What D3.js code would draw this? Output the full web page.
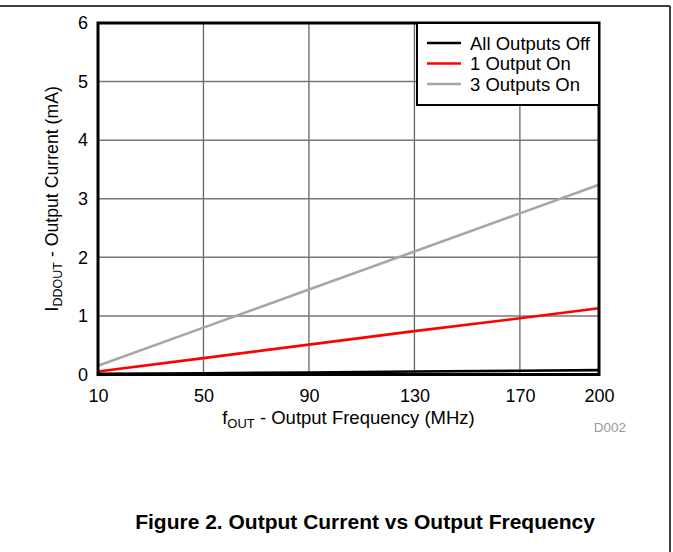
<!DOCTYPE html>
<html><head><meta charset="utf-8">
<script src="https://cdn.jsdelivr.net/npm/d3@7"></script>
<style>body{margin:0;background:#fff}svg{display:block}text{font-family:"Liberation Sans",Arial,sans-serif}</style>
</head><body><svg id="c" width="673" height="552"></svg>
<script>
const freq = [10, 50, 90, 130, 170, 200];
const allOff = [0.01, 0.02, 0.035, 0.05, 0.063, 0.075];
const oneOn = [0.05, 0.28, 0.51, 0.74, 0.96, 1.13];
const threeOn = [0.15, 0.80, 1.45, 2.10, 2.75, 3.24];
const xTicks = [10, 50, 90, 130, 170, 200];
const yTicks = [0, 1, 2, 3, 4, 5, 6];
const seriesNames = ["All Outputs Off", "1 Output On", "3 Outputs On"];
const seriesColors = ["#000000", "#ff0000", "#a6a6a6"];
const seriesValues = [allOff, oneOn, threeOn];

const svg = d3.select("#c");
const L = 98, R = 599, T = 23, B = 374.5;
const x = d3.scaleLinear().domain([10, 200]).range([L, R]);
const y = d3.scaleLinear().domain([0, 6]).range([B, T]);

// outer frame
svg.append("line").attr("x1", 0).attr("x2", 670).attr("y1", 6).attr("y2", 6).attr("stroke", "#000").attr("stroke-width", 1.5);
svg.append("line").attr("x1", 670).attr("x2", 670).attr("y1", 6).attr("y2", 552).attr("stroke", "#000").attr("stroke-width", 1.5);

// grid
const g = svg.append("g");
g.selectAll("line.v").data(xTicks.slice(1, -1)).join("line")
  .attr("x1", d => x(d)).attr("x2", d => x(d)).attr("y1", T).attr("y2", B)
  .attr("stroke", "#666").attr("stroke-width", 1.3);
g.selectAll("line.h").data(yTicks.slice(1, -1)).join("line")
  .attr("y1", d => y(d)).attr("y2", d => y(d)).attr("x1", L).attr("x2", R)
  .attr("stroke", "#777").attr("stroke-width", 1.5);

// series
const line = d3.line().x((d, i) => x(freq[i])).y(d => y(d));
seriesValues.slice().reverse().forEach((vals, k) => {
  const i = seriesValues.length - 1 - k;
  svg.append("path").attr("d", line(vals)).attr("fill", "none")
    .attr("stroke", seriesColors[i]).attr("stroke-width", 2.6);
});

// plot frame
svg.append("rect").attr("x", L).attr("y", T).attr("width", R - L).attr("height", B - T)
  .attr("fill", "none").attr("stroke", "#000").attr("stroke-width", 3);

// axes labels
const xAxis = d3.axisBottom(x).tickValues(xTicks).tickSize(0).tickPadding(15).tickFormat(d3.format("d"));
const xa = svg.append("g").attr("transform", `translate(0,${B})`).call(xAxis);
xa.select(".domain").remove();
xa.selectAll("text").attr("font-size", 18).attr("fill", "#000").attr("font-family", "Liberation Sans, Arial, sans-serif");

const yAxis = d3.axisLeft(y).tickValues(yTicks).tickSize(0).tickPadding(10).tickFormat(d3.format("d"));
const ya = svg.append("g").attr("transform", `translate(${L},0)`).call(yAxis);
ya.select(".domain").remove();
ya.selectAll("text").attr("font-size", 18).attr("fill", "#000").attr("font-family", "Liberation Sans, Arial, sans-serif");

// axis titles
const xt = svg.append("text").attr("x", (L + R) / 2).attr("y", 424).attr("text-anchor", "middle").attr("font-size", 18.5);
xt.append("tspan").text("f");
xt.append("tspan").text("OUT").attr("font-size", 13).attr("dy", 4);
xt.append("tspan").text(" - Output Frequency (MHz)").attr("dy", -4);

const yt = svg.append("text").attr("transform", `translate(58,${(T + B) / 2}) rotate(-90)`).attr("text-anchor", "middle").attr("font-size", 17.7);
yt.append("tspan").text("I");
yt.append("tspan").text("DDOUT").attr("font-size", 12.5).attr("dy", 4);
yt.append("tspan").text(" - Output Current (mA)").attr("dy", -4);

// legend
const lg = svg.append("g");
lg.append("rect").attr("x", 417).attr("y", T).attr("width", R - 417).attr("height", 82)
  .attr("fill", "#fff").attr("stroke", "#000").attr("stroke-width", 2);
seriesNames.forEach((n, i) => {
  const yy = 43 + i * 20.5;
  lg.append("line").attr("x1", 427).attr("x2", 461).attr("y1", yy).attr("y2", yy)
    .attr("stroke", seriesColors[i]).attr("stroke-width", 2.6);
  lg.append("text").attr("x", 470).attr("y", yy + 6.5).attr("font-size", 18.5).text(n);
});

// id
svg.append("text").attr("x", 626).attr("y", 432).attr("text-anchor", "end").attr("font-size", 13.5).attr("fill", "#999").text("D002");

// caption
svg.append("text").attr("x", 365).attr("y", 529).attr("text-anchor", "middle").attr("font-size", 21).attr("font-weight", "bold")
  .text("Figure 2. Output Current vs Output Frequency");
</script></body></html>
